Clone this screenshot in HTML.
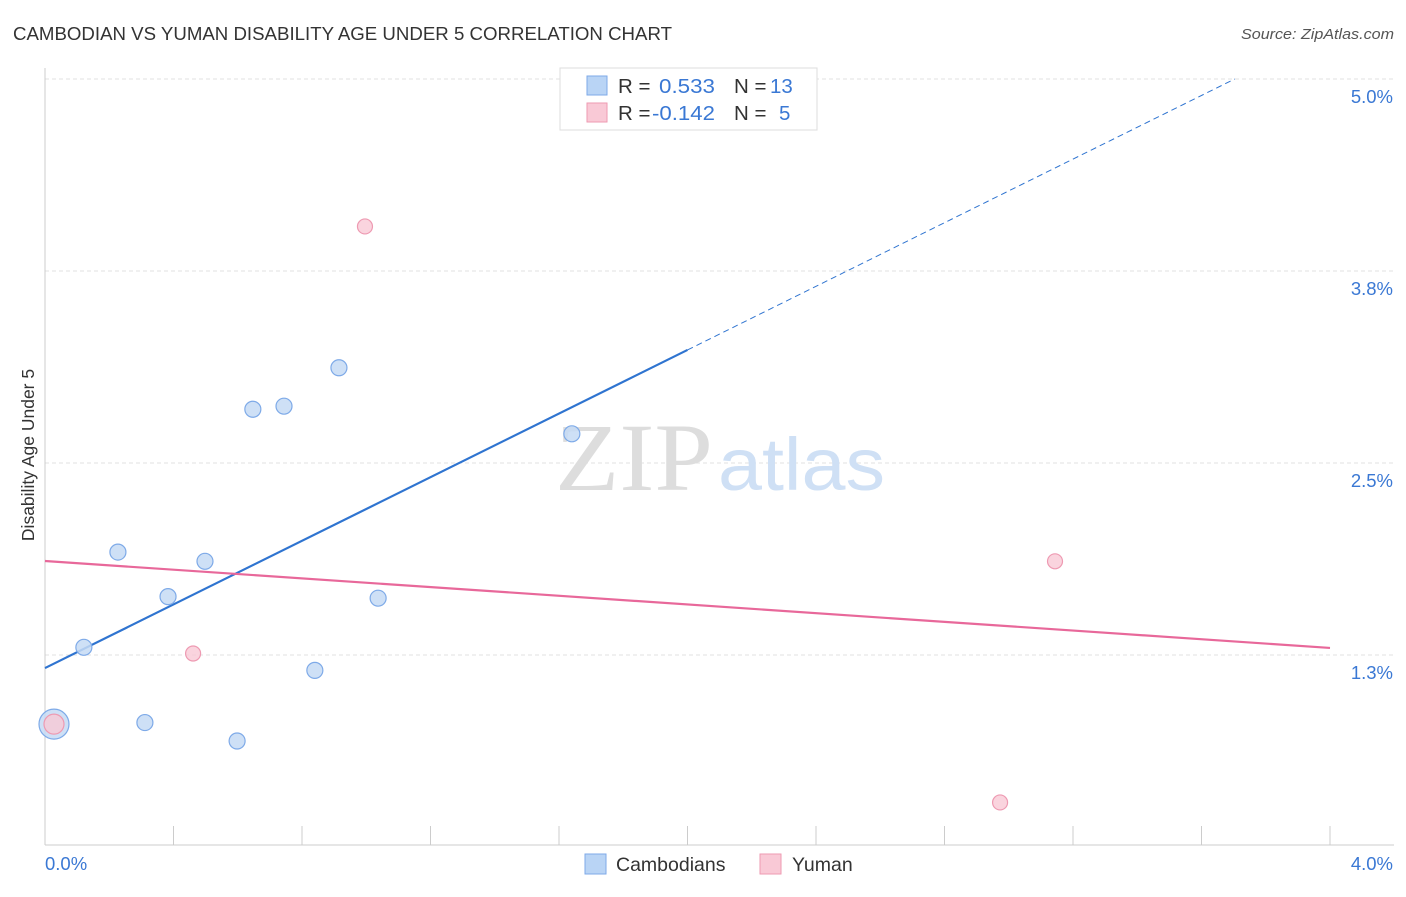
<!DOCTYPE html>
<html><head><meta charset="utf-8"><style>
body{margin:0;background:#fff;font-family:"Liberation Sans",sans-serif;}
</style></head><body>
<svg width="1406" height="892" viewBox="0 0 1406 892" xmlns="http://www.w3.org/2000/svg">
<text x="13" y="40" font-size="18" fill="#333" textLength="659" lengthAdjust="spacingAndGlyphs">CAMBODIAN VS YUMAN DISABILITY AGE UNDER 5 CORRELATION CHART</text>
<text x="1241" y="39" font-size="15" fill="#555" font-style="italic" textLength="153" lengthAdjust="spacingAndGlyphs">Source: ZipAtlas.com</text>
<g id="grid"></g>
<g id="axes"></g>
<text x="555" y="490" font-size="96" fill="#ddd" font-family="Liberation Serif,serif" textLength="158" lengthAdjust="spacingAndGlyphs">ZIP</text>
<text x="718" y="490" font-size="74" fill="#cfe0f5" textLength="167" lengthAdjust="spacingAndGlyphs">atlas</text>
<text transform="translate(34,455) rotate(-90)" font-size="17.5" fill="#333" text-anchor="middle">Disability Age Under 5</text>
<g id="lines"></g>
<g id="pts"></g>
<g>
<rect x="560" y="68" width="257" height="62" fill="#fff" stroke="#ddd"/>
<rect x="587" y="76" width="20" height="19" fill="#b9d4f5" stroke="#7eaae8"/>
<text x="618" y="93" font-size="20.5" fill="#333">R = </text><text x="659" y="93" font-size="20.5" fill="#3a78d4" textLength="56" lengthAdjust="spacingAndGlyphs">0.533</text>
<text x="734" y="93" font-size="20.5" fill="#333">N = </text><text x="770" y="93" font-size="20.5" fill="#3a78d4">13</text>
<rect x="587" y="103" width="20" height="19" fill="#f9c9d6" stroke="#ee9ab2"/>
<text x="618" y="120" font-size="20.5" fill="#333">R = </text><text x="652" y="120" font-size="20.5" fill="#3a78d4" textLength="63" lengthAdjust="spacingAndGlyphs">-0.142</text>
<text x="734" y="120" font-size="20.5" fill="#333">N = </text><text x="779" y="120" font-size="20.5" fill="#3a78d4">5</text>
</g>
<g>
<rect x="585" y="854" width="21" height="20" fill="#b9d4f5" stroke="#7eaae8"/>
<text x="616" y="871" font-size="19.5" fill="#333">Cambodians</text>
<rect x="760" y="854" width="21" height="20" fill="#f9c9d6" stroke="#ee9ab2"/>
<text x="792" y="871" font-size="19.5" fill="#333">Yuman</text>
</g>
</svg>
<script>
const yTicks=[1.25,2.5,3.75,5.0];
const yTickLabels=["1.3%","2.5%","3.8%","5.0%"];
const xTickLabels=["0.0%","4.0%"];
const camX=[0.028,0.121,0.227,0.311,0.383,0.498,0.598,0.647,0.744,0.840,0.915,1.037,1.640];
const camY=[0.80,1.30,1.92,0.81,1.63,1.86,0.69,2.85,2.87,1.15,3.12,1.62,2.69];
const yumX=[0.028,0.461,0.996,3.144,2.973];
const yumY=[0.80,1.26,4.04,1.86,0.29];
const camTrend=[1.165,3.236];
const yumTrend=[1.862,1.296];
const X=v=>45+v*321.25, Y=v=>847-v*153.6;
const NS="http://www.w3.org/2000/svg";
function mk(p,t,a){const e=document.createElementNS(NS,t);for(const k in a)e.setAttribute(k,a[k]);document.getElementById(p).appendChild(e);return e;}
let e;
yTicks.forEach((t,i)=>{
 e=mk('grid','line',{x1:45,x2:1394,y1:Y(t),y2:Y(t),stroke:'#e2e2e2','stroke-dasharray':'4,3'});
 
 
 e=mk('axes','text',{x:1393,y:Y(t)+24,'font-size':18.5,fill:'#3a78d4','text-anchor':'end'});e.textContent=yTickLabels[i];
 
 
});
mk('axes','line',{x1:45,x2:45,y1:68,y2:845,stroke:'#ccc'});
mk('axes','line',{x1:45,x2:1394,y1:845,y2:845,stroke:'#ccc'});
for(let i=1;i<=10;i++){e=mk('axes','line',{x1:X(i*0.4),x2:X(i*0.4),y1:826,y2:845,stroke:'#ccc'});
 
 }
e=mk('axes','text',{x:45,y:870,'font-size':18.5,fill:'#3a78d4'});e.textContent=xTickLabels[0];


e=mk('axes','text',{x:1393,y:870,'font-size':18.5,fill:'#3a78d4','text-anchor':'end'});e.textContent=xTickLabels[1];


const slope=(camTrend[1]-camTrend[0])/2;
e=mk('lines','line',{x1:X(0),y1:Y(camTrend[0]),x2:X(2),y2:Y(camTrend[1]),stroke:'#2f74d0','stroke-width':2.2});


const xe=(5.0-camTrend[0])/slope;
e=mk('lines','line',{x1:X(2),y1:Y(camTrend[1]),x2:X(xe),y2:Y(5.0),stroke:'#2f74d0','stroke-width':1,'stroke-dasharray':'6,4'});


e=mk('lines','line',{x1:X(0),y1:Y(yumTrend[0]),x2:X(4),y2:Y(yumTrend[1]),stroke:'#e8689a','stroke-width':2.2});


camX.forEach((x,i)=>{e=mk('pts','circle',{cx:X(x),cy:Y(camY[i]),r:i==0?15:8,fill:'#c6dbf5','fill-opacity':0.85,stroke:'#7eaae8','stroke-width':1.2});
 
 });
yumX.forEach((x,i)=>{e=mk('pts','circle',{cx:X(x),cy:Y(yumY[i]),r:i==0?10:7.5,fill:'#f9c9d6','fill-opacity':0.8,stroke:'#ee9ab2','stroke-width':1.2});
 
 });
</script>
</body></html>
